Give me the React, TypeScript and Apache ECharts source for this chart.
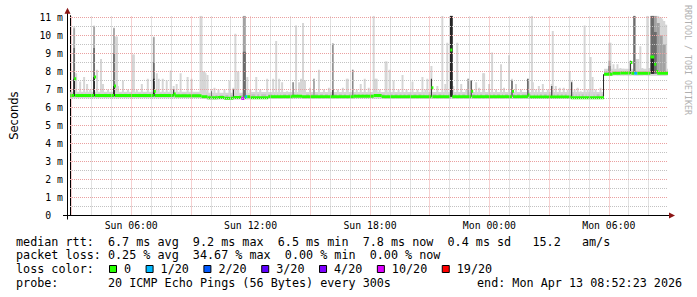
import { useEffect, useRef } from 'react';
import * as echarts from 'echarts';

const WIDTH = 697;
const HEIGHT = 297;
const GRID_LEFT = 67;
const GRID_RIGHT_X = 668;
const GRID_ZERO_Y = 215.5;
const PX_PER_MS = 18;

// time axis in hours since Sun 00:00
const X_MIN = 2.925;
const X_MAX = 32.975;
const Y_MAX = 11.1;

const MONO = '"DejaVu Sans Mono", monospace';
const SANS = '"DejaVu Sans", sans-serif';

const xTickHours = [6, 12, 18, 24, 30];
const xTickLabels = ['Sun 06:00', 'Sun 12:00', 'Sun 18:00', 'Mon 00:00', 'Mon 06:00'];
const hourGrid = [3, 4, 5, 6, 7, 8, 9, 10, 11, 12, 13, 14, 15, 16, 17, 18, 19, 20, 21, 22, 23, 24, 25, 26, 27, 28, 29, 30, 31, 32];
const msGrid = [0.5, 1, 1.5, 2, 2.5, 3, 3.5, 4, 4.5, 5, 5.5, 6, 6.5, 7, 7.5, 8, 8.5, 9, 9.5, 10, 10.5, 11];

// base smoke band (ms), piecewise between bandT
const bandT = [2.935, 9.835, 11.985, 29.76, 32.985];
const bandLo = [6.52, 6.45, 6.5, 7.78];
const bandMid = [6.76, 6.7, 6.74, 8.0];
const bandHi = [6.88, 6.82, 6.86, 8.15];

// outer (light) smoke spikes: time (h) and top (ms)
const outerT = [3.135, 3.235, 3.435, 3.635, 3.785, 3.935, 4.135, 4.285, 4.485, 4.585, 4.835, 5.135, 5.235, 5.285, 5.335, 5.585, 5.835, 6.085, 6.135, 6.285, 6.535, 6.835, 7.135, 7.285, 7.385, 7.585, 7.785, 7.985, 8.135, 8.285, 8.485, 8.835, 9.035, 9.485, 9.535, 9.585, 9.635, 9.685, 9.735, 9.835, 10.035, 10.185, 10.385, 10.685, 10.935, 11.135, 11.235, 11.335, 11.385, 11.685, 11.835, 11.985, 12.285, 12.485, 12.835, 13.135, 13.285, 13.435, 13.585, 13.835, 14.135, 14.285, 14.435, 14.535, 14.635, 14.735, 14.985, 15.185, 15.435, 15.685, 15.935, 16.135, 16.385, 16.635, 16.835, 16.885, 17.135, 17.335, 17.535, 17.735, 17.935, 18.185, 18.235, 18.285, 18.335, 18.485, 18.785, 18.835, 18.985, 19.185, 19.435, 19.635, 19.835, 20.135, 20.385, 20.635, 20.785, 20.885, 21.085, 21.385, 21.635, 21.785, 21.885, 22.085, 22.185, 22.385, 22.585, 22.835, 22.935, 23.085, 23.335, 23.485, 23.685, 23.735, 23.985, 24.135, 24.335, 24.585, 24.735, 24.985, 25.135, 25.335, 25.585, 25.935, 26.135, 26.185, 26.335, 26.485, 26.685, 26.935, 27.135, 27.185, 27.335, 27.535, 27.735, 27.935, 28.035, 28.135, 28.285, 28.435, 28.585, 28.785, 28.935, 29.085, 29.185, 29.335, 29.585, 30.035, 30.085, 30.235, 30.435, 30.585, 30.735, 30.935, 31.085, 31.285, 31.385, 31.435, 31.485, 31.585, 31.685, 31.935, 32.035, 32.135, 32.185, 32.235, 32.285, 32.335, 32.385, 32.435, 32.485, 32.535, 32.585, 32.635, 32.685, 32.735, 32.785, 32.835, 32.885];
const outerTop = [10.5, 7.9, 7.45, 7.7, 7.3, 7.0, 10.55, 8.1, 8.7, 7.3, 7.0, 10.45, 9.95, 9.95, 7.2, 7.5, 7.0, 8.95, 8.95, 7.0, 7.3, 7.6, 9.95, 7.9, 7.6, 7.6, 7.5, 8.05, 7.2, 7.3, 7.9, 7.7, 7.6, 11.1, 11.1, 8.0, 8.0, 8.0, 7.9, 7.8, 7.0, 7.1, 7.0, 7.0, 7.5, 7.1, 10.1, 8.0, 8.0, 11.1, 7.7, 7.0, 7.7, 7.0, 7.6, 7.6, 9.7, 7.6, 7.4, 6.9, 7.4, 10.55, 7.4, 7.6, 10.7, 7.5, 7.1, 7.6, 8.1, 7.0, 7.1, 9.55, 7.0, 7.1, 7.6, 7.6, 8.1, 7.0, 7.3, 7.6, 7.1, 11.1, 7.6, 7.6, 7.6, 7.0, 8.55, 8.55, 8.1, 7.5, 7.0, 7.8, 7.0, 7.45, 7.0, 7.7, 7.0, 7.6, 8.3, 7.2, 11.1, 7.3, 9.6, 11.1, 7.2, 9.6, 7.3, 7.0, 7.6, 7.5, 7.4, 7.1, 7.9, 7.9, 7.3, 9.05, 7.0, 8.4, 7.1, 8.9, 7.6, 7.3, 7.0, 7.6, 11.1, 7.4, 7.0, 7.2, 7.3, 7.0, 7.3, 10.25, 7.2, 7.1, 7.1, 7.0, 8.0, 7.5, 7.0, 7.1, 6.9, 10.55, 7.0, 8.8, 7.7, 7.0, 7.1, 9.6, 9.6, 8.4, 8.4, 8.2, 8.15, 8.1, 8.6, 11.1, 8.7, 8.7, 8.7, 9.4, 8.2, 11.1, 8.2, 11.1, 11.1, 11.1, 11.1, 11.1, 11.1, 11.1, 11.1, 11.0, 11.0, 11.0, 10.9, 10.8, 10.8, 10.6, 10.6];

// inner (darker) smoke: time (h), mid-gray top, dark-gray top, black core top (0 = none), width (min)
const innerT = [3.135, 4.135, 5.135, 7.135, 8.135, 10.035, 11.135, 11.685, 14.135, 15.185, 16.135, 17.135, 21.085, 22.085, 22.935, 23.085, 25.135, 25.935, 27.135, 28.135, 29.735, 30.035, 31.085, 31.285, 32.185, 32.335, 32.485, 32.635, 32.785];
const innerMid = [10.4, 10.5, 10.4, 9.9, 0, 0, 0, 11.1, 0, 7.6, 0, 0, 0, 11.1, 7.6, 0, 0, 0, 0, 0, 0, 8.6, 0, 11.1, 11.1, 11.1, 10.7, 10.0, 9.5];
const innerDark = [9.3, 9.3, 9.0, 8.5, 0, 0, 0, 9.1, 7.4, 0, 9.55, 8.1, 0, 11.1, 0, 0, 0, 0, 0, 0, 0, 8.3, 0, 11.1, 11.1, 10.2, 0, 0, 0];
const innerCore = [7.6, 7.7, 7.2, 7.6, 7.0, 6.9, 7.0, 0, 0, 0, 7.0, 0, 7.6, 11.1, 0, 7.5, 7.5, 7.6, 7.2, 7.4, 7.85, 0, 8.6, 0, 8.8, 0, 0, 0, 0];
const innerW = [5, 5, 5, 5, 3, 3, 3, 9, 3, 5, 3, 3, 3, 8, 5, 3, 3, 3, 3, 3, 3, 6, 3, 6, 10, 9, 9, 9, 9];

// median rtt (ms), held from each time to the next; loss index into lossLabels
const medianT = [2.935, 3.135, 3.185, 4.135, 4.185, 5.135, 5.185, 7.135, 7.185, 8.135, 8.185, 9.535, 9.835, 10.335, 10.685, 11.135, 11.535, 11.685, 11.735, 11.835, 11.985, 12.885, 14.085, 14.585, 16.135, 17.185, 18.185, 18.585, 21.085, 21.135, 22.035, 22.135, 23.085, 23.135, 25.135, 25.185, 25.935, 25.985, 28.085, 29.76, 30.185, 30.585, 31.085, 31.135, 31.285, 31.435, 32.085, 32.285, 32.385, 32.435, 32.985];
const medianV = [6.67, 7.6, 6.67, 7.7, 6.67, 7.2, 6.66, 6.9, 6.66, 6.75, 6.65, 6.6, 6.54, 6.55, 6.52, 6.55, 6.5, 6.56, 6.6, 6.6, 6.54, 6.6, 6.62, 6.6, 6.6, 6.62, 6.66, 6.6, 7.1, 6.6, 9.2, 6.6, 6.9, 6.6, 6.9, 6.6, 6.7, 6.58, 6.54, 7.85, 7.9, 7.92, 8.5, 7.9, 7.9, 7.9, 8.8, 8.4, 8.0, 7.9, 7.85];
const medianLoss = [0, 0, 0, 0, 0, 0, 0, 0, 0, 0, 0, 0, 0, 0, 0, 0, 5, 0, 1, 0, 0, 0, 0, 0, 0, 0, 0, 0, 0, 0, 0, 0, 0, 0, 0, 0, 0, 0, 0, 0, 0, 0, 0, 0, 1, 0, 0, 0, 0, 0, 0];

const lossLabels = ['0', '1/20', '2/20', '3/20', '4/20', '10/20', '19/20'];
const lossColors = ['#26ff00', '#00b8ff', '#0059ff', '#5e00ff', '#7e00ff', '#dd00ff', '#ff0000'];

const rttStatValues = ['6.7', '9.2', '6.5', '7.8', '0.4'];
const rttStatNames = ['avg', 'max', 'min', 'now', 'sd'];
const ampsValue = '15.2';
const lossStatValues = ['0.25', '34.67', '0.00', '0.00'];
const lossStatNames = ['avg', 'max', 'min', 'now'];
const probeText = 'probe:       20 ICMP Echo Pings (56 Bytes) every 300s';
const endText = 'end: Mon Apr 13 08:52:23 2026';
const creditText = 'RRDTOOL / TOBI OETIKER';

const shades = ['#d6d6d6', '#c0c0c0', '#a2a2a2', '#6c6c6c', '#262626'];
const RED_GRID = '#eaa0a0';
const GRAY_GRID = '#c2c2c2';

function bandIndexAt(t: number): number {
  for (let i = 0; i < bandT.length - 1; i++) {
    if (t >= bandT[i] && t < bandT[i + 1]) return i;
  }
  return bandT.length - 2;
}

function buildSmoke(): number[][] {
  const out: number[][] = [];
  for (let i = 0; i < bandT.length - 1; i++) out.push([bandT[i], bandT[i + 1], bandLo[i], bandHi[i], 0]);
  for (let i = 0; i < bandT.length - 1; i++) out.push([bandT[i], bandT[i + 1], bandLo[i] + 0.05, bandMid[i], 1]);
  const half = 6 / 120;
  outerT.forEach((t, i) => {
    const base = bandLo[bandIndexAt(t)];
    out.push([t - half, t + half, base, outerTop[i], 0]);
  });
  const layers: [number[], number][] = [[innerMid, 2], [innerDark, 3], [innerCore, 4]];
  layers.forEach(([arr, shade]) => {
    innerT.forEach((t, i) => {
      if (!arr[i]) return;
      const hw = innerW[i] / 120;
      const base = bandLo[bandIndexAt(t)] + 0.1;
      out.push([t - hw, t + hw, base, arr[i], shade]);
    });
  });
  return out;
}

function buildMedian(): number[][] {
  const out: number[][] = [];
  for (let i = 0; i < medianT.length - 1; i++) out.push([medianT[i], medianT[i + 1], medianV[i], medianLoss[i]]);
  return out;
}

export default function App() {
  const ref = useRef<HTMLDivElement>(null);
  useEffect(() => {
    document.body.style.margin = '0';
    if (!ref.current) return;
    const chart = echarts.init(ref.current, undefined, { renderer: 'svg' });

    const row1 = 'median rtt:  ' + rttStatValues.map((v, i) => `${v} ms ${rttStatNames[i]}`).join('  ') + '   ' + ampsValue + '   am/s';
    const row2 = 'packet loss: ' + lossStatValues.map((v, i) => `${v} % ${lossStatNames[i]}`).join('  ');
    const rowY = [241.5, 255.2, 269, 282.7];
    const CHAR_W = 7.08;
    const textStyle = (text: string) => ({ text, fill: '#000', fontFamily: MONO, fontSize: 11.75, align: 'left', verticalAlign: 'middle' });

    const elements: any[] = [];
    elements.push({ type: 'text', x: 16, y: rowY[0], style: textStyle(row1) });
    elements.push({ type: 'text', x: 16, y: rowY[1], style: textStyle(row2) });
    elements.push({ type: 'text', x: 16, y: rowY[2], style: textStyle('loss color:') });
    let bx = 109;
    lossLabels.forEach((lab, i) => {
      elements.push({ type: 'rect', shape: { x: bx + 0.5, y: rowY[2] - 3.5, width: 7, height: 7 }, style: { fill: lossColors[i], stroke: '#000', lineWidth: 1 } });
      elements.push({ type: 'text', x: bx + 15, y: rowY[2], style: textStyle(lab) });
      bx = bx + 15 + lab.length * CHAR_W + 14.5;
    });
    elements.push({ type: 'text', x: 16, y: rowY[3], style: textStyle(probeText) });
    elements.push({ type: 'text', x: 477, y: rowY[3], style: textStyle(endText) });
    elements.push({ type: 'text', x: 688, y: 5, rotation: -Math.PI / 2, style: { text: creditText, fill: '#b0b0b0', fontFamily: MONO, fontSize: 8.3, align: 'left', verticalAlign: 'middle' } });
    // axis extensions and arrows
    const topY = GRID_ZERO_Y - Y_MAX * PX_PER_MS;
    elements.push({ type: 'line', shape: { x1: GRID_LEFT - 4, y1: GRID_ZERO_Y, x2: GRID_RIGHT_X + 2, y2: GRID_ZERO_Y }, style: { stroke: '#000', lineWidth: 1 }, z: 10 });
    elements.push({ type: 'line', shape: { x1: GRID_LEFT + 0.5, y1: GRID_ZERO_Y + 4, x2: GRID_LEFT + 0.5, y2: topY - 3 }, style: { stroke: '#000', lineWidth: 1 }, z: 10 });
    elements.push({ type: 'polygon', shape: { points: [[GRID_LEFT - 2.5, topY - 2], [GRID_LEFT + 0.5, topY - 8], [GRID_LEFT + 3.5, topY - 2]] }, style: { fill: '#8b1515' }, z: 11 });
    elements.push({ type: 'polygon', shape: { points: [[GRID_RIGHT_X + 1, GRID_ZERO_Y - 3], [GRID_RIGHT_X + 7, GRID_ZERO_Y], [GRID_RIGHT_X + 1, GRID_ZERO_Y + 3]] }, style: { fill: '#8b1515' }, z: 11 });

    const gridLines: any[] = [
      ...hourGrid.map((h) => ({ xAxis: h, lineStyle: { color: h % 3 === 0 ? RED_GRID : GRAY_GRID, type: [1, 1], width: 1 } })),
      ...msGrid.map((v) => ({ yAxis: v, lineStyle: { color: Number.isInteger(v) ? RED_GRID : GRAY_GRID, type: [1, 1], width: 1 } })),
    ];

    const rectRender = (params: any, api: any) => {
      const p0 = api.coord([api.value(0), api.value(3)]);
      const p1 = api.coord([api.value(1), api.value(2)]);
      return {
        type: 'rect',
        shape: { x: p0[0], y: p0[1], width: Math.max(p1[0] - p0[0], 1), height: p1[1] - p0[1] },
        style: { fill: shades[api.value(4)] },
      };
    };
    const medianRender = (params: any, api: any) => {
      const p0 = api.coord([api.value(0), api.value(2)]);
      const p1 = api.coord([api.value(1), api.value(2)]);
      return {
        type: 'rect',
        shape: { x: p0[0], y: p0[1] - 1.5, width: Math.max(p1[0] - p0[0], 2), height: 3 },
        style: { fill: lossColors[api.value(3)] },
      };
    };

    const option: any = {
      animation: false,
      backgroundColor: '#ffffff',
      grid: {
        left: GRID_LEFT,
        right: WIDTH - GRID_RIGHT_X,
        top: GRID_ZERO_Y - Y_MAX * PX_PER_MS,
        bottom: HEIGHT - GRID_ZERO_Y,
      },
      xAxis: {
        type: 'value',
        min: X_MIN,
        max: X_MAX,
        axisLine: { show: true, lineStyle: { color: '#000' } },
        axisTick: { show: false },
        splitLine: { show: false },
        axisLabel: {
          customValues: xTickHours,
          formatter: (v: number) => {
            const i = xTickHours.indexOf(v);
            return i >= 0 ? xTickLabels[i] : '';
          },
          fontFamily: MONO,
          fontSize: 9.8,
          color: '#000',
          margin: 5,
        },
      },
      yAxis: {
        type: 'value',
        min: 0,
        max: Y_MAX,
        interval: 1,
        axisLine: { show: true, lineStyle: { color: '#000' } },
        axisTick: { show: false },
        splitLine: { show: false },
        axisLabel: {
          showMaxLabel: false,
          formatter: (v: number) => (v === 0 ? '0\u00a0\u00a0' : Number.isInteger(v) ? `${v} m` : ''),
          fontFamily: MONO,
          fontSize: 9.8,
          color: '#000',
          margin: 7,
        },
        name: 'Seconds',
        nameLocation: 'middle',
        nameGap: 50,
        nameTextStyle: { fontFamily: SANS, fontSize: 11.5, color: '#000' },
      },
      series: [
        {
          type: 'line',
          data: [[X_MIN, 0]],
          showSymbol: false,
          lineStyle: { opacity: 0 },
          silent: true,
          z: 1,
          markLine: { silent: true, symbol: ['none', 'none'], label: { show: false }, animation: false, data: gridLines },
        },
        {
          type: 'custom',
          z: 2,
          silent: true,
          clip: true,
          renderItem: rectRender,
          encode: { x: [0, 1], y: [2, 3] },
          data: buildSmoke(),
        },
        {
          type: 'custom',
          z: 3,
          silent: true,
          clip: true,
          renderItem: medianRender,
          encode: { x: [0, 1], y: [2] },
          data: buildMedian(),
        },
      ],
      graphic: { elements },
    };
    chart.setOption(option);
    return () => chart.dispose();
  }, []);
  return <div ref={ref} style={{ width: WIDTH, height: HEIGHT }} />;
}
